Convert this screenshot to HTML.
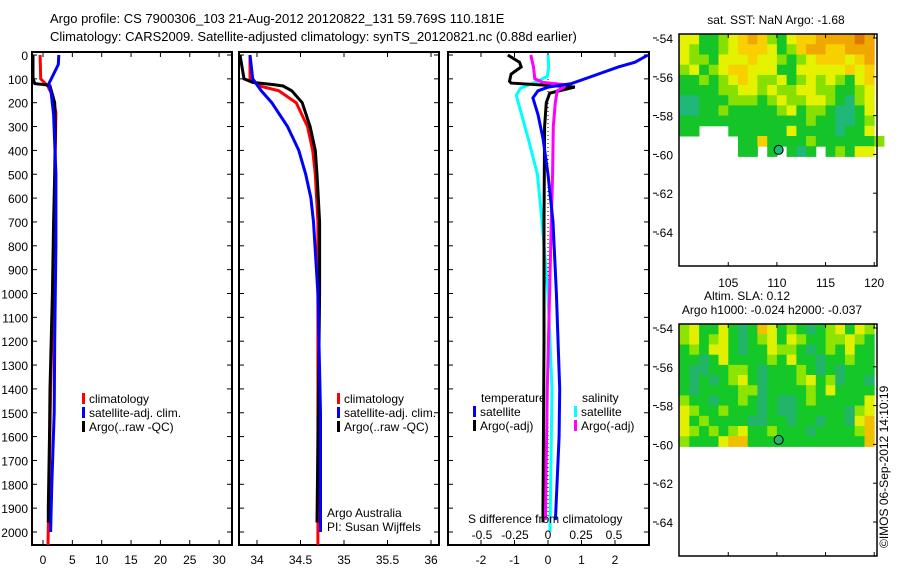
<!DOCTYPE html>
<html><head><meta charset="utf-8"><style>
body{margin:0;background:#fff}
svg{display:block;font-family:"Liberation Sans",sans-serif}
text{font-size:12px;fill:#000}
</style></head><body>
<svg id="chart" width="900" height="580" viewBox="0 0 900 580">
<text x="50" y="23" style="font-size:13px">Argo profile: CS 7900306_103 21-Aug-2012 20120822_131 59.769S 110.181E</text>
<text x="50" y="41" style="font-size:13px">Climatology: CARS2009. Satellite-adjusted climatology: synTS_20120821.nc (0.88d earlier)</text>
<g id="g1"></g>
<g id="g2"></g>
<g id="g3"></g>
<g id="m1"></g>
<g id="m2"></g>
<text transform="translate(888,548) rotate(-90)" style="font-size:12px">©IMOS 06-Sep-2012 14:10:19</text>
</svg>
<script>
// ---- data ----
const depthTicks=[0,100,200,300,400,500,600,700,800,900,1000,1100,1200,1300,1400,1500,1600,1700,1800,1900,2000];
const tTicks=[0,5,10,15,20,25,30];
const sTicks=[34,34.5,35,35.5,36];
const dtTicks=[-2,-1,0,1,2];
const dsTicks=[-0.5,-0.25,0,0.25,0.5];
const dsTickLabels=["-0.5","-0.25","0","0.25","0.5"];
const tClimDepth=[0,100,115,130,170,240,400,700,1000,1400,1700,2054];
const tClim=[-0.5,-0.4,0.2,0.8,1.6,2.2,2.1,1.9,1.7,1.3,1.1,0.85];
const tSatDepth=[0,40,80,120,160,250,500,800,1200,1500,1800,2000];
const tSat=[2.7,2.6,1.8,1.0,1.4,1.8,2.2,2.2,2.0,1.9,1.5,1.3];
const tArgoDepth=[0,100,120,125,130,200,300,500,700,1000,1400,1600,1900,1960];
const tArgo=[-1.8,-1.7,-1.4,0.5,1.2,2.0,2.1,2.0,1.8,1.6,1.2,1.1,0.9,0.9];
const sClimDepth=[0,100,130,150,200,300,400,500,700,1000,2054];
const sClim=[33.92,33.92,34.03,34.25,34.45,34.58,34.64,34.67,34.70,34.70,34.70];
const sSatDepth=[0,100,150,200,300,400,500,600,700,1000,1500,2000];
const sSat=[33.92,33.95,34.05,34.17,34.35,34.48,34.56,34.62,34.65,34.70,34.73,34.73];
const sArgoDepth=[0,100,115,125,130,150,200,300,400,500,700,1000,1960];
const sArgo=[33.80,33.85,33.95,34.2,34.3,34.40,34.52,34.61,34.67,34.69,34.72,34.72,34.69];
const dtArgoDepth=[0,30,50,80,110,118,134,160,200,300,700,1200,1900,1960];
const dtArgo=[-1.2,-0.85,-0.8,-1.1,-1.15,-1.1,0.8,0.05,-0.05,-0.1,-0.12,-0.12,-0.15,-0.15];
const dtSatDepth=[0,30,50,90,120,135,150,180,250,350,500,700,1000,1400,1600,1800,1950];
const dtSat=[3.4,2.6,2.1,1.3,0.7,0,-0.3,-0.45,-0.3,-0.15,0,0.15,0.25,0.35,0.33,0.27,0.22];
const dsSatDepth=[0,50,90,110,140,170,250,350,500,700,1000,1400,2000];
const dsSat=[0,0.005,-0.005,-0.08,-0.21,-0.24,-0.2,-0.15,-0.08,-0.045,0,0.03,0.015];
const dsArgoDepth=[0,50,100,115,125,135,150,200,300,500,700,1400,1950];
const dsArgo=[-0.13,-0.11,-0.1,-0.04,0.13,0.12,0.07,0.055,0.04,0.035,0.025,-0.005,-0.02];
const lonTicks=[105,110,115,120];
const latTicks=[-54,-56,-58,-60,-62,-64];
const argoLon=110.181, argoLat=-59.769;
const gridLon0=100, gridLat0=-53.8, gridDLon=1, gridDLat=-0.525;
const sstGrid=[
"33112345421344555565","32112344431245544555","32213334332123444345","23123443331133333434",
"11212343223123232134","11112233232233221123","00111222123223321023","00112111112312210013",
"11111111111112110012","11...111111311110113","......114111121111112","......11.1.101.12133"];
const slaGrid=[
"23113101431210123132","23123101231321122321","12133101132210121311","11013111121311011211",
"10011221011121010111","10101231011123120110","10111122011112131111","21101121010012111113",
"32112111010011111023","31211110011011011034","32121231121110111124","21113441111111111114"];
const sstColors=["#20b878","#14c428","#88e000","#e4f200","#f8d000","#f0a800","#e07800"];
const slaColors=["#22b468","#14c828","#8ce400","#e0f000","#f0c000"];
// ---- helpers ----
const NS="http://www.w3.org/2000/svg";
function mk(parent,tag,attrs,txt){const e=document.createElementNS(NS,tag);for(const k in attrs)e.setAttribute(k,attrs[k]);if(txt!==undefined)e.textContent=txt;parent.appendChild(e);return e;}
const yTop=52,yBot=545;
const yD=d=>55+d*0.2385;
function panel(g,x0,x1,xf,ticks,labels,showDepth){
  const r=mk(g,'rect',{x:x0,y:yTop,width:x1-x0,height:yBot-yTop,fill:'none',stroke:'#000','stroke-width':2});
  
  
  depthTicks.forEach(d=>{
    mk(g,'line',{x1:x0,x2:x0+5,y1:yD(d),y2:yD(d),stroke:'#000'});
    mk(g,'line',{x1:x1-5,x2:x1,y1:yD(d),y2:yD(d),stroke:'#000'});
    if(showDepth){const t=mk(g,'text',{x:x0-4,y:yD(d)+5,'text-anchor':'end'},d);
      
      }
  });
  ticks.forEach((v,i)=>{
    mk(g,'line',{x1:xf(v),x2:xf(v),y1:yBot,y2:yBot-5,stroke:'#000'});
    mk(g,'line',{x1:xf(v),x2:xf(v),y1:yTop,y2:yTop+5,stroke:'#000'});
    const t=mk(g,'text',{x:xf(v),y:564,'text-anchor':'middle'},labels?labels[i]:v);
    
    
  });
}
function line(g,xf,vals,deps,color,name,x0,x1,dash){
  const pts=vals.map((v,i)=>Math.max(x0,Math.min(x1,xf(v))).toFixed(1)+','+yD(deps[i]).toFixed(1)).join(' ');
  const p=mk(g,'polyline',{points:pts,fill:'none',stroke:color,'stroke-width':3,'stroke-linejoin':'miter'});
  
  
}
function legend(g,x,y,color,label){
  mk(g,'rect',{x:x,y:y-10,width:3,height:11,fill:color});
  const t=mk(g,'text',{x:x+7,y:y},label);
  
  
}
// panel 1
const g1=document.getElementById('g1');
const xT=v=>43+v*5.87;
panel(g1,32,232,xT,tTicks,null,true);
line(g1,xT,tClim,tClimDepth,'#f00','temp-climatology-line',33,231);
line(g1,xT,tArgo,tArgoDepth,'#000','temp-argo-line',33,231);
line(g1,xT,tSat,tSatDepth,'#00f','temp-satellite-line',33,231);
legend(g1,82,403,'#f00','climatology');legend(g1,82,417,'#00f','satellite-adj. clim.');legend(g1,82,431,'#000','Argo(..raw -QC)');
// panel 2
const g2=document.getElementById('g2');
const xS=v=>257+(v-34)*87;
panel(g2,239,439,xS,sTicks,null,false);
line(g2,xS,sClim,sClimDepth,'#f00','sal-climatology-line',240,438);
line(g2,xS,sArgo,sArgoDepth,'#000','sal-argo-line',240,438);
line(g2,xS,sSat,sSatDepth,'#00f','sal-satellite-line',240,438);
legend(g2,337,403,'#f00','climatology');legend(g2,337,417,'#00f','satellite-adj. clim.');legend(g2,337,431,'#000','Argo(..raw -QC)');
mk(g2,'text',{x:327,y:517},'Argo Australia');
mk(g2,'text',{x:327,y:531},'PI: Susan Wijffels');
// panel 3
const g3=document.getElementById('g3');
const xDT=v=>548+v*33.5;
const xDS=v=>548+v*132;
panel(g3,448,649,xDT,dtTicks,null,false);
mk(g3,'line',{x1:548,x2:548,y1:yD(0),y2:yD(1960),stroke:'#000','stroke-dasharray':'1,3'});
line(g3,xDS,dsSat,dsSatDepth,'#0ff','sdiff-satellite-line',449,648);
line(g3,xDT,dtArgo,dtArgoDepth,'#000','tdiff-argo-line',449,648);
line(g3,xDS,dsArgo,dsArgoDepth,'#f0f','sdiff-argo-line',449,648);
line(g3,xDT,dtSat,dtSatDepth,'#00f','tdiff-satellite-line',449,648);
mk(g3,'text',{x:481,y:402},'temperature');
mk(g3,'text',{x:582,y:402},'salinity');
legend(g3,473,416,'#00f','satellite');legend(g3,473,430,'#000','Argo(-adj)');
legend(g3,574,416,'#0ff','satellite');legend(g3,574,430,'#f0f','Argo(-adj)');
mk(g3,'text',{x:468,y:523},'S difference from climatology');
dsTicks.forEach((v,i)=>{const t=mk(g3,'text',{x:xDS(v),y:539,'text-anchor':'middle'},dsTickLabels[i]);
  
  });
// maps
const mxf=lon=>679.6+(lon-100)*9.73;
function map(g,top,grid,colors,titles){
  const ylat=lat=>top+4+(-54-lat)*(-19.4);
  const ylatF=lat=>top+4-(lat+54)*19.4;
  grid.forEach((row,r)=>{[...row].forEach((c,k)=>{
    if(c==='.')return;
    const la=gridLat0+r*gridDLat, lo=gridLon0+k*gridDLon;
    const x=mxf(lo), y=ylatF(la);
    const cell=mk(g,'rect',{x:x.toFixed(1),y:y.toFixed(1),width:(mxf(lo+gridDLon)-x+0.5).toFixed(1),height:(ylatF(la+gridDLat)-y+0.5).toFixed(1),fill:colors[+c]});
    
    
  });});
  mk(g,'rect',{x:679,y:top,width:198,height:232,fill:'none',stroke:'#000','stroke-width':1.5});
  latTicks.forEach(l=>{const y=ylatF(l);
    mk(g,'line',{x1:653,x2:657,y1:y,y2:y,stroke:'#000'});
    mk(g,'line',{x1:873,x2:877,y1:y,y2:y,stroke:'#000'});
    const t=mk(g,'text',{x:673,y:y+5,'text-anchor':'end'},l);
    
    });
  lonTicks.forEach(l=>{mk(g,'line',{x1:mxf(l),x2:mxf(l),y1:top,y2:top+4,stroke:'#000'});mk(g,'line',{x1:mxf(l),x2:mxf(l),y1:top+232,y2:top+228,stroke:'#000'});});
  const c=mk(g,'circle',{cx:mxf(argoLon),cy:ylatF(argoLat),r:4.5,fill:colors[0],stroke:'#000'});
  
  
  titles.forEach((tt,i)=>{const t=mk(g,'text',{x:tt[1],y:tt[2],'text-anchor':'middle'},tt[0]);
    
    });
  return ylatF;
}
const m1=document.getElementById('m1');
map(m1,34,sstGrid,sstColors,[["sat. SST: NaN Argo: -1.68",776,24]]);
lonTicks.forEach(l=>{const t=mk(m1,'text',{x:mxf(l),y:287,'text-anchor':'middle'},l);
  
  });
const m2=document.getElementById('m2');
map(m2,324,slaGrid,slaColors,[["Altim. SLA: 0.12",747,300],["Argo h1000: -0.024 h2000: -0.037",772,314]]);
</script>
</body></html>
